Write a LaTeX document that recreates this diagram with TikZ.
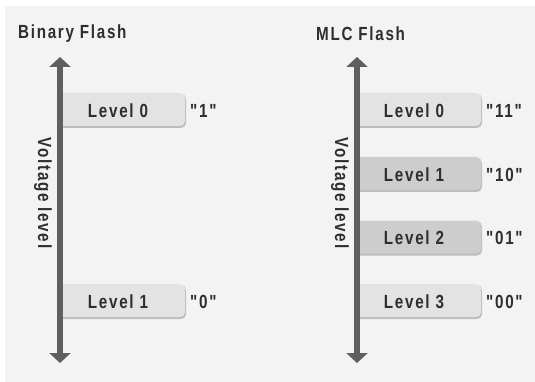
\documentclass[tikz,border=0pt]{standalone}
\usepackage{fontspec}
\usetikzlibrary{arrows.meta}
\newfontfamily\lblfont[FakeStretch=0.8,LetterSpace=9]{Liberation Sans}

\definecolor{panelc}{HTML}{F3F3F3}
\definecolor{lightc}{HTML}{E3E3E3}
\definecolor{darkc}{HTML}{CDCDCD}
\definecolor{shadowc}{HTML}{BDBDBD}
\definecolor{axisc}{HTML}{5F5F5F}
\definecolor{inkc}{HTML}{2E2E2E}

\tikzset{
  lbl/.style={inner sep=0pt, text=inkc, font=\lblfont\bfseries\fontsize{19}{21}\selectfont},
  axis/.style={draw=axisc, line width=6pt,
    {Triangle[width=21pt,length=10pt]}-{Triangle[width=21pt,length=10pt]}},
}

% level box: name, centre y, left x, right x, fill colour, text
\newcommand\lvlbox[6]{%
  \fill[shadowc, rounded corners=5pt] (#3+1,#2-16.5) rectangle (#4+1,#2+17.5);
  \fill[#5, rounded corners=5pt] (#3,#2-17.5) rectangle (#4,#2+15.5);
  \node[lbl] (#1) at ({(#3+5+#4)/2-6},#2) {#6};%
}

\begin{document}
\begin{tikzpicture}[x=1pt,y=-1pt]
  \useasboundingbox (0,0) rectangle (535,382);
  \fill[panelc] (5,6) rectangle (535,382);

  % titles
  \node[lbl, anchor=west] (tbin) at (18,34) {Binary Flash};
  \node[lbl, anchor=west] (tmlc) at (316,34) {MLC Flash};

  % binary flash levels
  \lvlbox{b0}{110.5}{58}{185}{lightc}{Level 0}
  \lvlbox{b1}{301.5}{58}{185}{lightc}{Level 1}
  \node[lbl, anchor=west] (vb0) at (190,110.5) {"1"};
  \node[lbl, anchor=west] (vb1) at (190,301.5) {"0"};

  % MLC flash levels
  \lvlbox{m0}{110.5}{354}{481}{lightc}{Level 0}
  \lvlbox{m1}{174.5}{354}{481}{darkc}{Level 1}
  \lvlbox{m2}{238}{354}{481}{darkc}{Level 2}
  \lvlbox{m3}{301.5}{354}{481}{lightc}{Level 3}
  \node[lbl, anchor=west] (vm0) at (486,110.5) {"11"};
  \node[lbl, anchor=west] (vm1) at (486,174.5) {"10"};
  \node[lbl, anchor=west] (vm2) at (486,238) {"01"};
  \node[lbl, anchor=west] (vm3) at (486,301.5) {"00"};

  % voltage axes
  \coordinate (btop) at (60,57);
  \coordinate (bbot) at (60,363);
  \coordinate (mtop) at (357,57);
  \coordinate (mbot) at (357,363);
  \draw[axis] (btop) -- (bbot);
  \draw[axis] (mtop) -- (mbot);
  \node[lbl, rotate=-90] (vlb) at (43,193) {Voltage level};
  \node[lbl, rotate=-90] (vlm) at (340,193) {Voltage level};
\end{tikzpicture}
\end{document}
